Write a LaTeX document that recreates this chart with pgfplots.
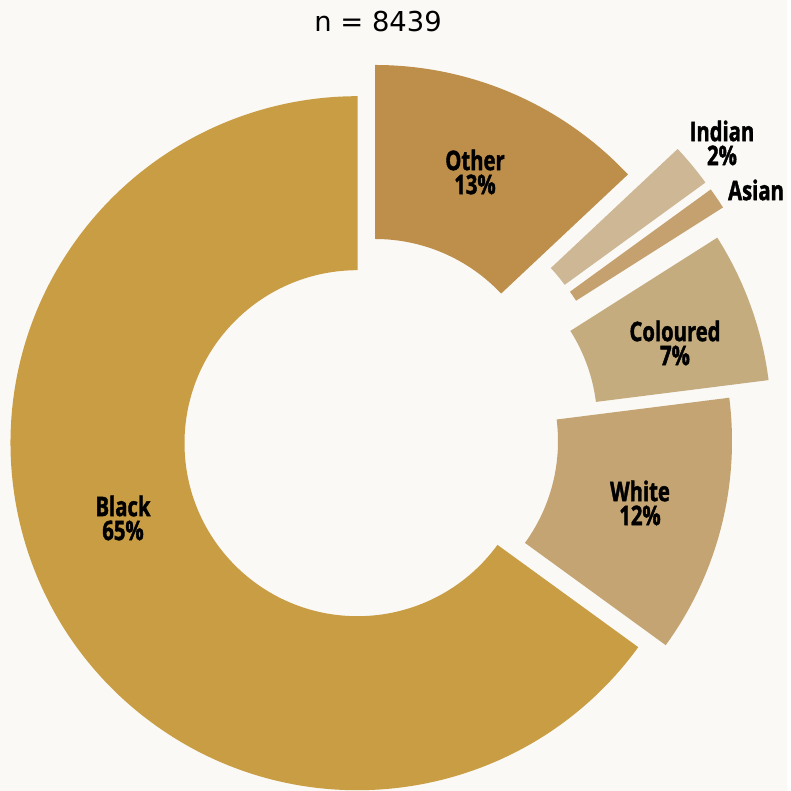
\documentclass[border=0pt]{standalone}
\usepackage{pgfplots}
\pgfplotsset{compat=1.18}
\usepackage{pgfplotstable}
\usepackage{fontspec}
\setmainfont{DejaVu Sans}
\newfontfamily\labelfont{Open Sans}[FakeStretch=0.75, BoldFeatures={FakeBold=1.5}]
\definecolor{cBlack}{HTML}{C99D44}
\definecolor{cOther}{HTML}{BD8F4B}
\definecolor{cIndian}{HTML}{CDB794}
\definecolor{cAsian}{HTML}{C4A16E}
\definecolor{cColoured}{HTML}{C4AC7E}
\definecolor{cWhite}{HTML}{C4A473}
\definecolor{bg}{HTML}{FAF9F5}
\pgfplotstableread{
label value cx cy color
Other 13 375 379 cOther
Indian 2 424.7 404.5 cIndian
Asian 1 430 397.6 cAsian
Coloured 7 424.3 367.4 cColoured
White 12 385 349.8 cWhite
Black 65 357.5 347.8 cBlack
}\slices
\begin{document}
\begin{tikzpicture}
\def\cum{0}
\pgfplotsforeachungrouped \i in {0,...,5}{%
  \pgfplotstablegetelem{\i}{value}\of\slices \let\v\pgfplotsretval
  \pgfplotstablegetelem{\i}{cx}\of\slices \let\cx\pgfplotsretval
  \pgfplotstablegetelem{\i}{cy}\of\slices \let\cy\pgfplotsretval
  \pgfplotstablegetelem{\i}{color}\of\slices \let\col\pgfplotsretval
  \pgfmathsetmacro\aA{90-3.6*\cum}%
  \pgfmathsetmacro\cumnew{\cum+\v}%
  \pgfmathsetmacro\aB{90-3.6*\cumnew}%
  \global\let\cum\cumnew
  \pgfmathsetmacro\oxA{\cx+347*cos(\aA)}%
  \pgfmathsetmacro\oyA{\cy+347*sin(\aA)}%
  \pgfmathsetmacro\ixB{\cx+173*cos(\aB)}%
  \pgfmathsetmacro\iyB{\cy+173*sin(\aB)}%
  \expandafter\xdef\csname slice\i\endcsname{\noexpand\fill[\col,overlay] (axis cs:\oxA,\oyA) arc[start angle=\aA,end angle=\aB,radius=173.5pt] -- (axis cs:\ixB,\iyB) arc[start angle=\aB,end angle=\aA,radius=86.5pt] -- cycle;}%
}
\begin{axis}[scale only axis, width=393.5pt, height=395.5pt,
  xmin=0, xmax=787, ymin=0, ymax=791, hide axis, clip=false]
\fill[bg] (axis cs:0,0) rectangle (axis cs:787,791);
\pgfplotsforeachungrouped \i in {0,...,5}{\csname slice\i\endcsname}
\tikzset{lab/.style={font=\labelfont\bfseries\fontsize{13.5}{12}\selectfont, align=center, text=black}}
\node[lab] at (axis cs:475,619) {Other\\13\%};
\node[lab] at (axis cs:722,648) {Indian\\2\%};
\node[lab] at (axis cs:756,601) {Asian};
\node[lab] at (axis cs:675,448) {Coloured\\7\%};
\node[lab] at (axis cs:640,288) {White\\12\%};
\node[lab] at (axis cs:123,273) {Black\\65\%};
\node[font=\fontsize{13.7}{16}\selectfont, text=black] at (axis cs:378,769) {n = 8439};
\end{axis}
\end{tikzpicture}
\end{document}
